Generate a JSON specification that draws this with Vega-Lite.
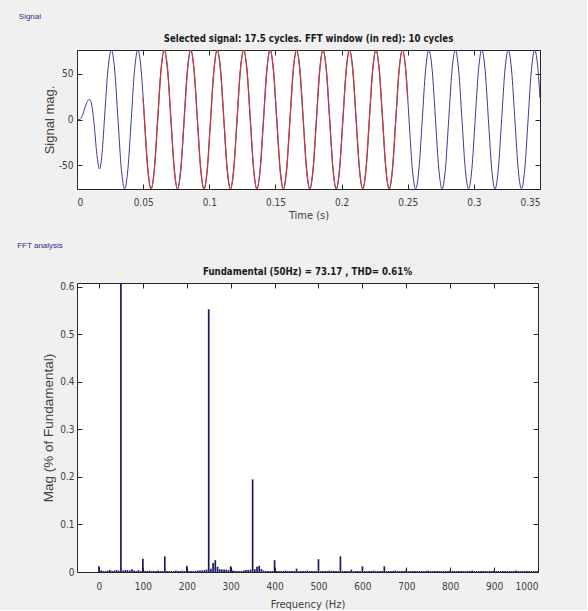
{
"$schema": "https://vega.github.io/schema/vega-lite/v6.json",
"background": "#f0f0f0",
"padding": {"left": 17, "top": 13, "right": 46, "bottom": 0},
"spacing": 20,
"config": {
  "font": "Liberation Sans Narrow, DejaVu Sans Condensed, Liberation Sans, sans-serif",
  "view": {"fill": "white", "stroke": "#262626", "strokeWidth": 1},
  "axis": {"domain": false, "grid": false, "tickColor": "#262626", "tickSize": -5, "labelPadding": 9, "labelColor": "#404040", "labelFont": "Liberation Sans Narrow, DejaVu Sans Condensed, Liberation Sans, sans-serif", "labelFontSize": 10, "titleFontWeight": "normal", "titleColor": "#404040"},
  "axisX": {"labelPadding": 13}
},
"vconcat": [
{
  "title": {"text": "Signal", "anchor": "start", "fontSize": 8, "fontWeight": "normal", "color": "#2e2e8a", "font": "Liberation Sans", "offset": 12, "dx": -24},
  "vconcat": [{
    "width": 463, "height": 139,
    "title": {"text": "Selected signal: 17.5 cycles. FFT window (in red): 10 cycles", "fontSize": 9.6, "fontWeight": "bold", "offset": 6, "color": "#1a1a1a", "font": "Liberation Sans Narrow, DejaVu Sans Condensed, Liberation Sans, sans-serif"},
    "data": {"values": [
{"t":0,"v":0},{"t":0.002,"v":0},{"t":0.004,"v":4},{"t":0.006,"v":13},{"t":0.008,"v":20},{"t":0.0095,"v":22},{"t":0.011,"v":17},{"t":0.013,"v":-6},{"t":0.015,"v":-38},{"t":0.017,"v":-54},{"t":0.019,"v":-36},{"t":0.021,"v":6},{"t":0.0235,"v":56},
{"t":0.026,"v":76},{"t":0.0285,"v":54},{"t":0.031,"v":0},{"t":0.0335,"v":-54},{"t":0.036,"v":-76},{"t":0.0385,"v":-54},{"t":0.041,"v":0},{"t":0.0435,"v":54},
{"t":0.046,"v":76},{"t":0.0485,"v":54},{"t":0.05,"v":23.5},{"t":0.051,"v":0},{"t":0.0535,"v":-54},{"t":0.056,"v":-76},{"t":0.0585,"v":-54},{"t":0.061,"v":0},{"t":0.0635,"v":54},
{"t":0.066,"v":76},{"t":0.0685,"v":54},{"t":0.071,"v":0},{"t":0.0735,"v":-54},{"t":0.076,"v":-76},{"t":0.0785,"v":-54},{"t":0.081,"v":0},{"t":0.0835,"v":54},
{"t":0.086,"v":76},{"t":0.0885,"v":54},{"t":0.091,"v":0},{"t":0.0935,"v":-54},{"t":0.096,"v":-76},{"t":0.0985,"v":-54},{"t":0.101,"v":0},{"t":0.1035,"v":54},
{"t":0.106,"v":76},{"t":0.1085,"v":54},{"t":0.111,"v":0},{"t":0.1135,"v":-54},{"t":0.116,"v":-76},{"t":0.1185,"v":-54},{"t":0.121,"v":0},{"t":0.1235,"v":54},
{"t":0.126,"v":76},{"t":0.1285,"v":54},{"t":0.131,"v":0},{"t":0.1335,"v":-54},{"t":0.136,"v":-76},{"t":0.1385,"v":-54},{"t":0.141,"v":0},{"t":0.1435,"v":54},
{"t":0.146,"v":76},{"t":0.1485,"v":54},{"t":0.151,"v":0},{"t":0.1535,"v":-54},{"t":0.156,"v":-76},{"t":0.1585,"v":-54},{"t":0.161,"v":0},{"t":0.1635,"v":54},
{"t":0.166,"v":76},{"t":0.1685,"v":54},{"t":0.171,"v":0},{"t":0.1735,"v":-54},{"t":0.176,"v":-76},{"t":0.1785,"v":-54},{"t":0.181,"v":0},{"t":0.1835,"v":54},
{"t":0.186,"v":76},{"t":0.1885,"v":54},{"t":0.191,"v":0},{"t":0.1935,"v":-54},{"t":0.196,"v":-76},{"t":0.1985,"v":-54},{"t":0.201,"v":0},{"t":0.2035,"v":54},
{"t":0.206,"v":76},{"t":0.2085,"v":54},{"t":0.211,"v":0},{"t":0.2135,"v":-54},{"t":0.216,"v":-76},{"t":0.2185,"v":-54},{"t":0.221,"v":0},{"t":0.2235,"v":54},
{"t":0.226,"v":76},{"t":0.2285,"v":54},{"t":0.231,"v":0},{"t":0.2335,"v":-54},{"t":0.236,"v":-76},{"t":0.2385,"v":-54},{"t":0.241,"v":0},{"t":0.2435,"v":54},
{"t":0.246,"v":76},{"t":0.2485,"v":54},{"t":0.25,"v":23.5},{"t":0.251,"v":0},{"t":0.2535,"v":-54},{"t":0.256,"v":-76},{"t":0.2585,"v":-54},{"t":0.261,"v":0},{"t":0.2635,"v":54},
{"t":0.266,"v":76},{"t":0.2685,"v":54},{"t":0.271,"v":0},{"t":0.2735,"v":-54},{"t":0.276,"v":-76},{"t":0.2785,"v":-54},{"t":0.281,"v":0},{"t":0.2835,"v":54},
{"t":0.286,"v":76},{"t":0.2885,"v":54},{"t":0.291,"v":0},{"t":0.2935,"v":-54},{"t":0.296,"v":-76},{"t":0.2985,"v":-54},{"t":0.301,"v":0},{"t":0.3035,"v":54},
{"t":0.306,"v":76},{"t":0.3085,"v":54},{"t":0.311,"v":0},{"t":0.3135,"v":-54},{"t":0.316,"v":-76},{"t":0.3185,"v":-54},{"t":0.321,"v":0},{"t":0.3235,"v":54},
{"t":0.326,"v":76},{"t":0.3285,"v":54},{"t":0.331,"v":0},{"t":0.3335,"v":-54},{"t":0.336,"v":-76},{"t":0.3385,"v":-54},{"t":0.341,"v":0},{"t":0.3435,"v":54},
{"t":0.346,"v":76},{"t":0.3485,"v":54},{"t":0.35,"v":23.5}
    ]},
    "layer": [
      {"mark": {"type": "line", "color": "#3a3a9c", "strokeWidth": 1, "interpolate": "monotone", "clip": true},
       "encoding": {
         "x": {"field": "t", "type": "quantitative", "scale": {"domain": [0, 0.35], "nice": false, "zero": false},
               "axis": {"values": [0, 0.05, 0.1, 0.15, 0.2, 0.25, 0.3, 0.35], "labelExpr": "'' + datum.value", "title": "Time (s)", "titleFontSize": 11, "titlePadding": 2, "titleFont": "Liberation Sans Narrow, DejaVu Sans Condensed, Liberation Sans, sans-serif"}},
         "y": {"field": "v", "type": "quantitative", "scale": {"domain": [-76, 76], "nice": false},
               "axis": {"values": [-50, 0, 50], "labelExpr": "'' + datum.value", "title": "Signal mag.", "titleFont": "Liberation Sans", "titleFontSize": 13, "titlePadding": 2}}
       }},
      {"transform": [{"filter": "datum.t >= 0.05 && datum.t <= 0.25"}],
       "mark": {"type": "line", "color": "#c43c3c", "strokeWidth": 1.3, "interpolate": "monotone", "clip": true},
       "encoding": {
         "x": {"field": "t", "type": "quantitative", "axis": {"orient": "top", "values": [0, 0.05, 0.1, 0.15, 0.2, 0.25, 0.3, 0.35], "labels": false, "title": null}},
         "y": {"field": "v", "type": "quantitative", "axis": {"orient": "right", "values": [-50, 0, 50], "labels": false, "title": null}}
       }}
    ],
    "resolve": {"axis": {"x": "independent", "y": "independent"}}
  }]
},
{
  "title": {"text": "FFT analysis", "anchor": "start", "fontSize": 8, "fontWeight": "normal", "color": "#2e2e8a", "font": "Liberation Sans", "offset": 17, "dx": -24},
  "vconcat": [{
    "width": 461, "height": 289,
    "title": {"text": "Fundamental (50Hz) = 73.17 , THD= 0.61%", "fontSize": 9.6, "fontWeight": "bold", "offset": 5, "color": "#1a1a1a", "font": "Liberation Sans Narrow, DejaVu Sans Condensed, Liberation Sans, sans-serif"},
    "data": {"values": [
{"f":0,"m":0.012},{"f":5,"m":0.003},{"f":10,"m":0.002},{"f":15,"m":0.002},{"f":20,"m":0.003},{"f":25,"m":0.004},{"f":30,"m":0.002},{"f":35,"m":0.003},{"f":40,"m":0.004},{"f":45,"m":0.003},
{"f":50,"m":100},{"f":55,"m":0.003},{"f":60,"m":0.004},{"f":65,"m":0.004},{"f":70,"m":0.003},{"f":75,"m":0.006},{"f":80,"m":0.003},{"f":85,"m":0.002},{"f":90,"m":0.004},{"f":95,"m":0.002},
{"f":100,"m":0.028},{"f":105,"m":0.002},{"f":110,"m":0.002},{"f":115,"m":0.003},{"f":120,"m":0.002},{"f":125,"m":0.002},{"f":130,"m":0.002},{"f":135,"m":0.003},{"f":140,"m":0.002},{"f":145,"m":0.002},
{"f":150,"m":0.033},{"f":155,"m":0.002},{"f":160,"m":0.002},{"f":165,"m":0.002},{"f":170,"m":0.002},{"f":175,"m":0.003},{"f":180,"m":0.002},{"f":185,"m":0.002},{"f":190,"m":0.003},{"f":195,"m":0.002},
{"f":200,"m":0.013},{"f":205,"m":0.002},{"f":210,"m":0.002},{"f":215,"m":0.002},{"f":220,"m":0.002},{"f":225,"m":0.003},{"f":230,"m":0.003},{"f":235,"m":0.003},{"f":240,"m":0.004},{"f":245,"m":0.005},
{"f":250,"m":0.553},{"f":255,"m":0.007},{"f":260,"m":0.019},{"f":265,"m":0.025},{"f":270,"m":0.011},{"f":275,"m":0.006},{"f":280,"m":0.005},{"f":285,"m":0.005},{"f":290,"m":0.005},{"f":295,"m":0.004},
{"f":300,"m":0.012},{"f":305,"m":0.003},{"f":310,"m":0.002},{"f":315,"m":0.002},{"f":320,"m":0.002},{"f":325,"m":0.002},{"f":330,"m":0.003},{"f":335,"m":0.004},{"f":340,"m":0.004},{"f":345,"m":0.005},
{"f":350,"m":0.195},{"f":355,"m":0.006},{"f":360,"m":0.011},{"f":365,"m":0.013},{"f":370,"m":0.006},{"f":375,"m":0.003},{"f":380,"m":0.002},{"f":385,"m":0.002},{"f":390,"m":0.002},{"f":395,"m":0.002},
{"f":400,"m":0.025},{"f":405,"m":0.002},{"f":410,"m":0.002},{"f":415,"m":0.002},{"f":420,"m":0.002},{"f":425,"m":0.003},{"f":430,"m":0.002},{"f":435,"m":0.002},{"f":440,"m":0.002},{"f":445,"m":0.002},
{"f":450,"m":0.007},{"f":455,"m":0.002},{"f":460,"m":0.002},{"f":465,"m":0.002},{"f":470,"m":0.002},{"f":475,"m":0.003},{"f":480,"m":0.002},{"f":485,"m":0.002},{"f":490,"m":0.002},{"f":495,"m":0.002},
{"f":500,"m":0.027},{"f":505,"m":0.002},{"f":510,"m":0.002},{"f":515,"m":0.002},{"f":520,"m":0.002},{"f":525,"m":0.003},{"f":530,"m":0.002},{"f":535,"m":0.002},{"f":540,"m":0.002},{"f":545,"m":0.002},
{"f":550,"m":0.033},{"f":555,"m":0.002},{"f":560,"m":0.002},{"f":565,"m":0.002},{"f":570,"m":0.002},{"f":575,"m":0.005},{"f":580,"m":0.002},{"f":585,"m":0.002},{"f":590,"m":0.002},{"f":595,"m":0.002},
{"f":600,"m":0.012},{"f":605,"m":0.002},{"f":610,"m":0.002},{"f":615,"m":0.002},{"f":620,"m":0.002},{"f":625,"m":0.003},{"f":630,"m":0.002},{"f":635,"m":0.002},{"f":640,"m":0.002},{"f":645,"m":0.002},
{"f":650,"m":0.012},{"f":655,"m":0.002},{"f":660,"m":0.002},{"f":665,"m":0.002},{"f":670,"m":0.002},{"f":675,"m":0.003},{"f":680,"m":0.002},{"f":685,"m":0.002},{"f":690,"m":0.002},{"f":695,"m":0.002},
{"f":700,"m":0.005},{"f":705,"m":0.002},{"f":710,"m":0.002},{"f":715,"m":0.002},{"f":720,"m":0.002},{"f":725,"m":0.002},{"f":730,"m":0.002},{"f":735,"m":0.002},{"f":740,"m":0.002},{"f":745,"m":0.002},
{"f":750,"m":0.003},{"f":755,"m":0.002},{"f":760,"m":0.002},{"f":765,"m":0.002},{"f":770,"m":0.002},{"f":775,"m":0.002},{"f":780,"m":0.002},{"f":785,"m":0.002},{"f":790,"m":0.002},{"f":795,"m":0.002},
{"f":800,"m":0.003},{"f":805,"m":0.002},{"f":810,"m":0.002},{"f":815,"m":0.002},{"f":820,"m":0.002},{"f":825,"m":0.002},{"f":830,"m":0.002},{"f":835,"m":0.002},{"f":840,"m":0.002},{"f":845,"m":0.002},
{"f":850,"m":0.003},{"f":855,"m":0.002},{"f":860,"m":0.002},{"f":865,"m":0.002},{"f":870,"m":0.002},{"f":875,"m":0.002},{"f":880,"m":0.002},{"f":885,"m":0.002},{"f":890,"m":0.002},{"f":895,"m":0.002},
{"f":900,"m":0.003},{"f":905,"m":0.002},{"f":910,"m":0.002},{"f":915,"m":0.002},{"f":920,"m":0.002},{"f":925,"m":0.002},{"f":930,"m":0.002},{"f":935,"m":0.002},{"f":940,"m":0.002},{"f":945,"m":0.002},
{"f":950,"m":0.003},{"f":955,"m":0.002},{"f":960,"m":0.002},{"f":965,"m":0.002},{"f":970,"m":0.002},{"f":975,"m":0.002},{"f":980,"m":0.002},{"f":985,"m":0.002},{"f":990,"m":0.002},{"f":995,"m":0.002},
{"f":1000,"m":0.002}
    ]},
    "layer": [
      {"mark": {"type": "bar", "color": "#1a1a66", "size": 1.7, "clip": true},
       "encoding": {
         "x": {"field": "f", "type": "quantitative", "scale": {"domain": [-50, 1000], "nice": false, "zero": false, "padding": 0},
               "axis": {"values": [0, 100, 200, 300, 400, 500, 600, 700, 800, 900, 1000], "labelExpr": "'' + datum.value", "title": "Frequency (Hz)", "titleFontSize": 11, "titlePadding": 7, "labelPadding": 14, "titleFont": "Liberation Sans Narrow, DejaVu Sans Condensed, Liberation Sans, sans-serif"}},
         "y": {"field": "m", "type": "quantitative", "scale": {"domain": [0, 0.6084], "nice": false},
               "axis": {"values": [0, 0.1, 0.2, 0.3, 0.4, 0.5, 0.6], "labelExpr": "'' + datum.value", "title": "Mag (% of Fundamental)", "titleFont": "Liberation Sans", "titleFontSize": 13.5, "titlePadding": 4, "labelPadding": 8}}
       }},
      {"mark": {"type": "point", "opacity": 0, "clip": true},
       "encoding": {
         "x": {"field": "f", "type": "quantitative", "axis": {"orient": "top", "values": [0, 100, 200, 300, 400, 500, 600, 700, 800, 900, 1000], "labels": false, "title": null}},
         "y": {"field": "m", "type": "quantitative", "axis": {"orient": "right", "values": [0, 0.1, 0.2, 0.3, 0.4, 0.5, 0.6], "labels": false, "title": null}}
       }}
    ],
    "resolve": {"axis": {"x": "independent", "y": "independent"}}
  }]
}
]
}
